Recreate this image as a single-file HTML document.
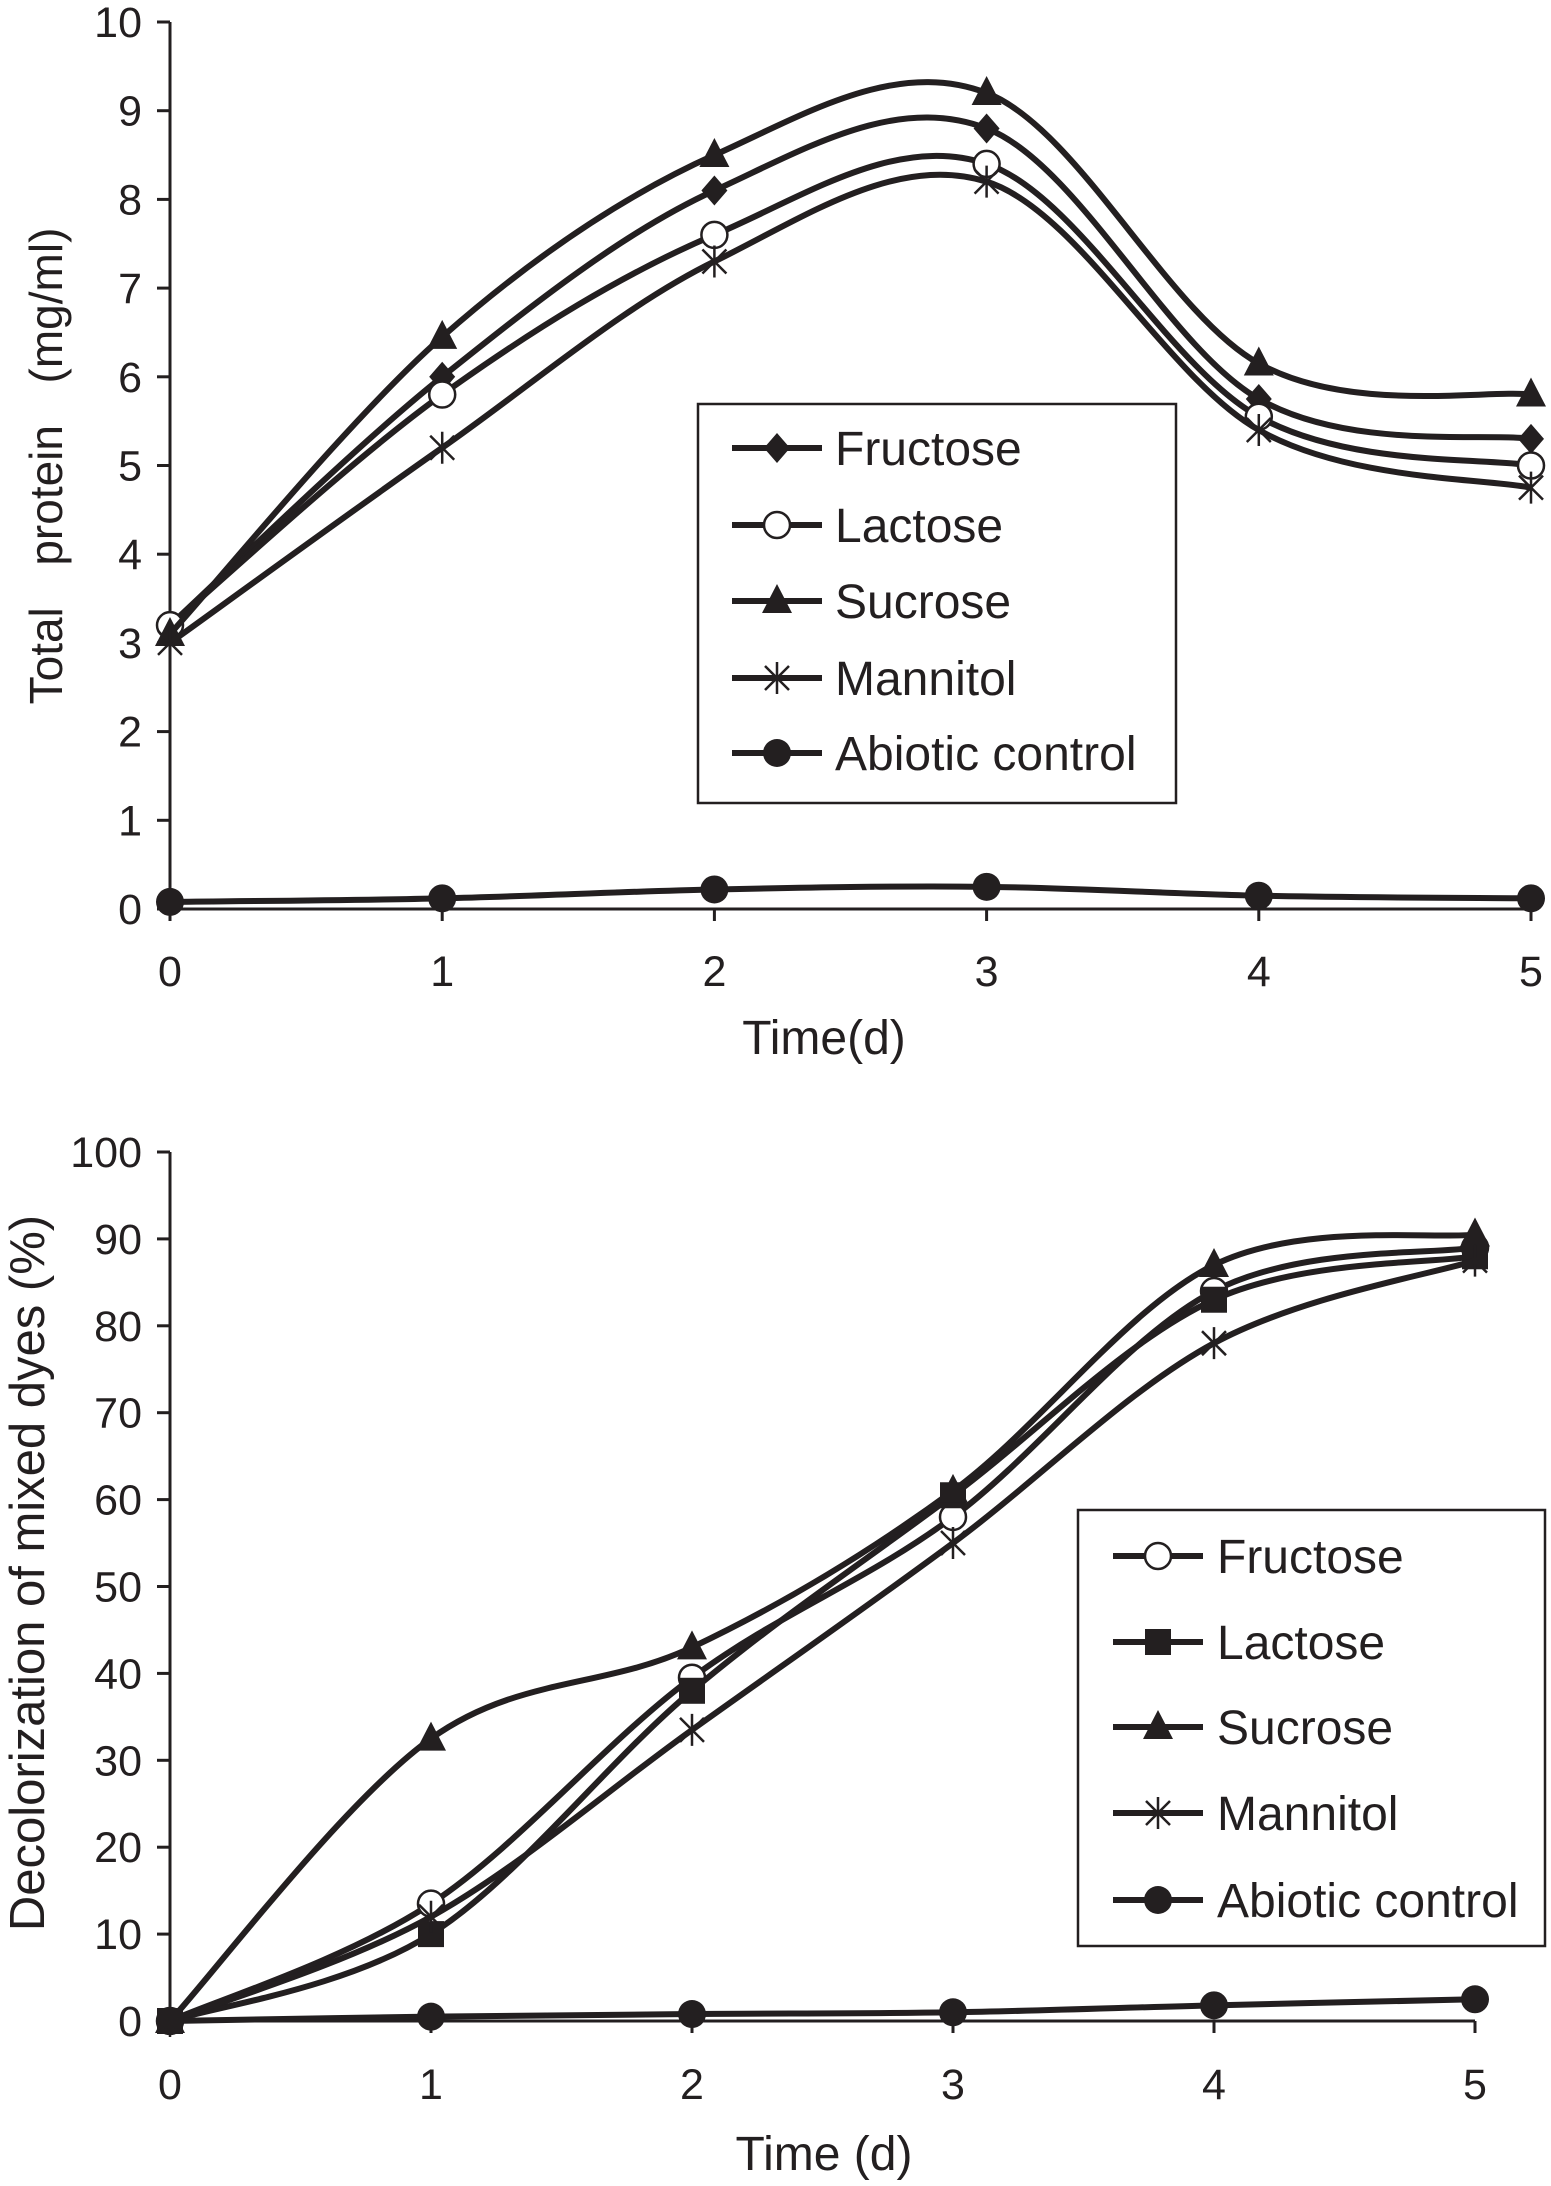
<!DOCTYPE html>
<html><head><meta charset="utf-8"><style>
html,body{margin:0;padding:0;background:#fff}
svg{display:block}
text{font-family:"Liberation Sans Narrow","Liberation Sans",sans-serif;fill:#231f20}
</style></head><body>
<svg id="s" width="1551" height="2186" viewBox="0 0 1551 2186" xmlns="http://www.w3.org/2000/svg"></svg>
<script>
// ---- Chart A: Total protein ----
const daysA = [0,1,2,3,4,5];
const fructoseA = [3.2,6.0,8.1,8.8,5.75,5.3];
const lactoseA  = [3.2,5.8,7.6,8.4,5.55,5.0];
const sucroseA  = [3.1,6.45,8.5,9.2,6.15,5.8];
const mannitolA = [3.0,5.2,7.3,8.2,5.4,4.75];
const abioticA  = [0.08,0.12,0.22,0.25,0.15,0.12];
const yTicksA = [0,1,2,3,4,5,6,7,8,9,10];
// ---- Chart B: Decolorization ----
const daysB = [0,1,2,3,4,5];
const fructoseB = [0,13.5,39.5,58,84,89];
const lactoseB  = [0,10,38,60.5,83,88];
const sucroseB  = [0,32.5,43,61,87,90.5];
const mannitolB = [0,12,33.5,55,78,87.5];
const abioticB  = [0,0.5,0.8,1,1.8,2.5];
const yTicksB = [0,10,20,30,40,50,60,70,80,90,100];

const NS="http://www.w3.org/2000/svg";
const svg=document.getElementById('s');
function mk(tag,attrs,parent){const e=document.createElementNS(NS,tag);for(const k in attrs)e.setAttribute(k,attrs[k]);(parent||svg).appendChild(e);return e;}
function smooth(pts){let d=`M${pts[0][0]},${pts[0][1]}`;for(let i=0;i<pts.length-1;i++){const p0=pts[Math.max(0,i-1)],p1=pts[i],p2=pts[i+1],p3=pts[Math.min(pts.length-1,i+2)];const c1=[p1[0]+(p2[0]-p0[0])/6,p1[1]+(p2[1]-p0[1])/6];const c2=[p2[0]-(p3[0]-p1[0])/6,p2[1]-(p3[1]-p1[1])/6];d+=` C${c1[0]},${c1[1]} ${c2[0]},${c2[1]} ${p2[0]},${p2[1]}`;}return d;}
function marker(type,x,y,g){
  const c='#231f20';let e;
  if(type==='diamond'){e=mk('polygon',{points:`${x},${y-15} ${x+13},${y} ${x},${y+15} ${x-13},${y}`,fill:c},g);}
  else if(type==='circle'){e=mk('circle',{cx:x,cy:y,r:13,fill:'#fff',stroke:c,'stroke-width':2.5},g);}
  else if(type==='triangle'){e=mk('polygon',{points:`${x},${y-17} ${x+15},${y+12} ${x-15},${y+12}`,fill:c},g);}
  else if(type==='square'){e=mk('rect',{x:x-13,y:y-13,width:26,height:26,fill:c},g);}
  else if(type==='dot'){e=mk('circle',{cx:x,cy:y,r:14,fill:c},g);}
  else if(type==='star'){e=mk('path',{d:`M${x-12},${y-12}L${x+12},${y+12}M${x+12},${y-12}L${x-12},${y+12}M${x},${y-16}L${x},${y+16}`,stroke:c,'stroke-width':2.5,fill:'none'},g);}
  
  
}
function chart(cfg){
  const g=mk('g',{});
  
  
  const xs=v=>cfg.x0+(cfg.x5-cfg.x0)*v/5;
  const ys=v=>cfg.y0+(cfg.yTop-cfg.y0)*v/cfg.ymax;
  const ax=mk('path',{d:`M${cfg.x0},${cfg.yTop}V${cfg.y0}H${cfg.x5}`,stroke:'#231f20','stroke-width':3,fill:'none'},g);
  
  
  cfg.yticks.forEach(t=>{const y=ys(t);
    const l=mk('line',{x1:cfg.x0-13,x2:cfg.x0,y1:y,y2:y,stroke:'#231f20','stroke-width':3},g);
    
    
    const tx=mk('text',{x:cfg.x0-28,y:y+15,'font-size':43,'text-anchor':'end'},g);tx.textContent=t;
    
    
  });
  cfg.days.forEach(d=>{const x=xs(d);
    const l=mk('line',{x1:x,x2:x,y1:cfg.y0,y2:cfg.y0+12,stroke:'#231f20','stroke-width':3},g);
    
    
    const tx=mk('text',{x:x,y:cfg.tickY,'font-size':43,'text-anchor':'middle'},g);tx.textContent=d;
    
    
  });
  const xt=mk('text',{x:cfg.xtX,y:cfg.xtY,'font-size':48,'text-anchor':'middle'},g);xt.textContent=cfg.xTitle;
  
  
  const yt=mk('text',{x:0,y:0,'font-size':cfg.ytSize,'text-anchor':'middle',transform:`translate(${cfg.ytX},${cfg.ytY}) rotate(-90)`,style:'font-family:"Liberation Sans",sans-serif;white-space:pre','word-spacing':cfg.ytWs},g);yt.textContent=cfg.yTitle;
  
  
  cfg.series.forEach(s=>{
    const pts=cfg.days.map((d,i)=>[xs(d),ys(s.v[i])]);
    const p=mk('path',{d:smooth(pts),stroke:'#231f20','stroke-width':6,fill:'none'},g);
    
    
    pts.forEach(q=>marker(s.m,q[0],q[1],g));
  });
  const L=cfg.leg;
  const lb=mk('rect',{x:L.x,y:L.y,width:L.w,height:L.h,fill:'#fff',stroke:'#231f20','stroke-width':2.5},g);
  
  
  cfg.series.forEach((s,i)=>{const y=L.rows[i];
    const l=mk('line',{x1:L.l1,x2:L.l2,y1:y,y2:y,stroke:'#231f20','stroke-width':6},g);
    
    
    marker(s.m,(L.l1+L.l2)/2,y,g);
    const tx=mk('text',{x:L.tx,y:y+17,'font-size':48},g);tx.textContent=s.label;
    
    
  });
}
chart({name:'protein-chart',days:daysA,x0:170,x5:1531,y0:909,yTop:22,ymax:10,yticks:yTicksA,tickY:986,
  xTitle:'Time(d)',xtX:824,xtY:1054,yTitle:'Total  protein  (mg/ml)',ytX:62,ytY:466,ytSize:46,ytWs:8,
  series:[{label:'Fructose',v:fructoseA,m:'diamond'},{label:'Lactose',v:lactoseA,m:'circle'},{label:'Sucrose',v:sucroseA,m:'triangle'},{label:'Mannitol',v:mannitolA,m:'star'},{label:'Abiotic control',v:abioticA,m:'dot'}],
  leg:{x:698,y:404,w:478,h:399,l1:732,l2:822,tx:835,rows:[448,525,601,678,753]}});
chart({name:'decolorization-chart',days:daysB,x0:170,x5:1475,y0:2021,yTop:1152,ymax:100,yticks:yTicksB,tickY:2099,
  xTitle:'Time (d)',xtX:824,xtY:2170,yTitle:'Decolorization of mixed dyes (%)',ytX:44,ytY:1573,ytSize:49,ytWs:0,
  series:[{label:'Fructose',v:fructoseB,m:'circle'},{label:'Lactose',v:lactoseB,m:'square'},{label:'Sucrose',v:sucroseB,m:'triangle'},{label:'Mannitol',v:mannitolB,m:'star'},{label:'Abiotic control',v:abioticB,m:'dot'}],
  leg:{x:1078,y:1510,w:467,h:436,l1:1113,l2:1203,tx:1217,rows:[1556,1642,1727,1813,1900]}});
</script>
</body></html>
